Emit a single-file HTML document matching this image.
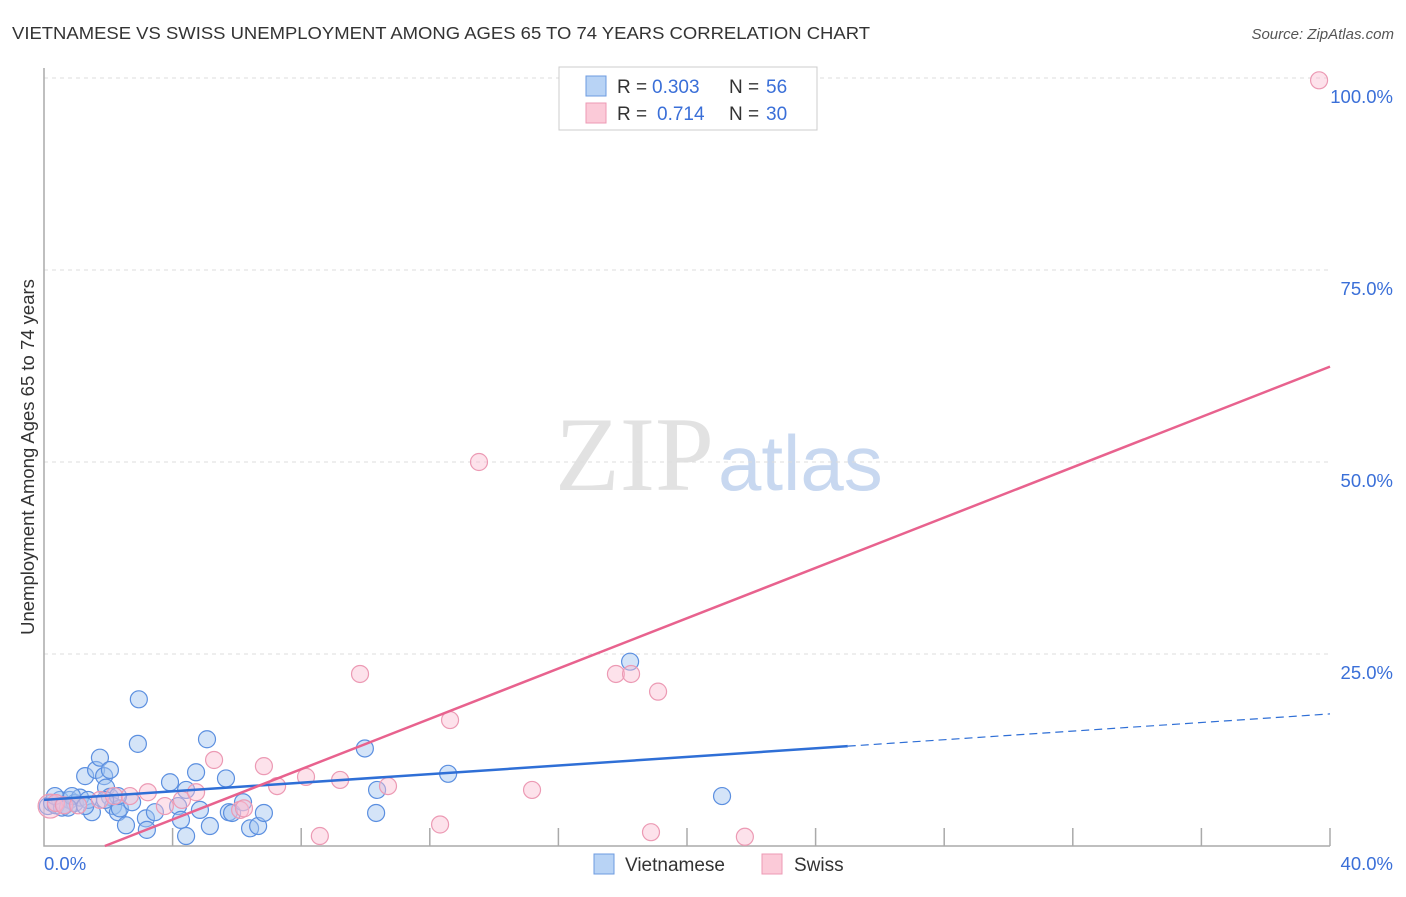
<!DOCTYPE html>
<html><head><meta charset="utf-8"><style>
body{margin:0;background:#fff;font-family:"Liberation Sans",sans-serif;}
svg text{font-family:"Liberation Sans",sans-serif;}
</style></head><body>
<svg id="chart" width="1406" height="892" xmlns="http://www.w3.org/2000/svg">
<text x="12" y="39" font-size="17.5" fill="#333" textLength="858" lengthAdjust="spacingAndGlyphs">VIETNAMESE VS SWISS UNEMPLOYMENT AMONG AGES 65 TO 74 YEARS CORRELATION CHART</text>
<text x="1394" y="39" font-size="15" fill="#555" text-anchor="end" font-style="italic">Source: ZipAtlas.com</text>
<text x="555" y="490" font-size="106" fill="#e2e2e2" style="font-family:'Liberation Serif',serif">ZIP</text>
<text x="718" y="490" font-size="78" fill="#c8d8f0">atlas</text>
<text transform="translate(34,457) rotate(-90)" font-size="18.5" fill="#333" text-anchor="middle">Unemployment Among Ages 65 to 74 years</text>
<g id="grid"></g><g id="marks"></g>
<g>
<rect x="559" y="67" width="258" height="63" fill="#fff" stroke="#ccc"/>
<rect x="586" y="76" width="20" height="20" fill="#b8d3f5" stroke="#6d9be0"/>
<rect x="586" y="103" width="20" height="20" fill="#fbcad8" stroke="#ec9ab4"/>
<text x="617" y="93" font-size="19" fill="#333">R =</text>
<text x="652" y="93" font-size="19" fill="#3a6fd8">0.303</text>
<text x="729" y="93" font-size="19" fill="#333">N =</text>
<text x="766" y="93" font-size="19" fill="#3a6fd8">56</text>
<text x="617" y="120" font-size="19" fill="#333">R =</text>
<text x="657" y="120" font-size="19" fill="#3a6fd8">0.714</text>
<text x="729" y="120" font-size="19" fill="#333">N =</text>
<text x="766" y="120" font-size="19" fill="#3a6fd8">30</text>
</g>
<g>
<rect x="594" y="854" width="20" height="20" fill="#b8d3f5" stroke="#6d9be0"/>
<text x="625" y="871" font-size="19" fill="#333">Vietnamese</text>
<rect x="762" y="854" width="20" height="20" fill="#fbcad8" stroke="#ec9ab4"/>
<text x="794" y="871" font-size="19" fill="#333">Swiss</text>
</g>
</svg>
<script>
const xTicks=[0,4,8,12,16,20,24,28,32,36,40];
const yTicks=[25,50,75,100];
const yTickLabels=["25.0%","50.0%","75.0%","100.0%"];
const blueX=[0.12,0.25,0.37,0.5,0.65,0.8,0.96,1.12,1.28,1.49,1.62,1.74,1.87,1.93,2.05,2.05,2.15,2.3,2.36,2.55,2.74,2.92,2.95,3.17,3.2,3.45,3.92,4.17,4.26,4.42,4.42,4.73,4.85,5.07,5.16,5.66,5.75,5.85,6.19,6.41,6.66,6.84,9.98,10.36,10.33,12.57,18.23,21.09,1.37,0.56,0.87,2.3,1.9,0.34,0.75,1.28];
const blueY=[5.2,5.6,5.3,6.0,5.3,6.0,5.6,6.3,9.1,4.4,9.9,11.5,9.1,7.6,6.4,9.9,5.2,4.4,4.9,2.7,5.7,13.3,19.1,3.6,2.1,4.4,8.3,5.2,3.4,1.3,7.3,9.6,4.7,13.9,2.6,8.8,4.4,4.3,5.7,2.3,2.6,4.3,12.7,7.3,4.3,9.4,24.0,6.5,6.0,5.0,6.5,6.5,6.0,6.5,5.0,5.2];
const pinkX=[0.19,0.37,0.62,1.06,1.74,2.18,2.67,3.23,3.76,4.29,4.73,5.29,6.1,6.22,6.84,7.25,8.15,8.58,9.21,9.83,10.7,12.32,12.63,13.53,15.18,17.79,18.26,18.88,19.1,21.8,39.66];
const pinkY=[5.2,5.6,5.3,5.3,6.0,6.5,6.5,7.0,5.2,6.0,7.0,11.2,4.7,4.9,10.4,7.8,9.0,1.3,8.6,22.4,7.8,2.8,16.4,50.0,7.3,22.4,22.4,1.8,20.1,1.2,99.7];
const blueFit=[6.0,0.28];
const pinkFit=[-3.1,1.638];
const NS='http://www.w3.org/2000/svg';
const X=v=>44+v/40*1286, Y=v=>846-v*7.68;
const grid=document.getElementById('grid'), marks=document.getElementById('marks');
function mk(tag,attrs,parent){const e=document.createElementNS(NS,tag);for(const k in attrs)e.setAttribute(k,attrs[k]);parent.appendChild(e);return e;}
yTicks.forEach((t,i)=>{
 const l=mk('line',{x1:44,x2:1330,y1:Y(t),y2:Y(t),stroke:'#ddd','stroke-dasharray':'4,4'},grid);
 
 
 const tx=mk('text',{x:1393,y:Y(t)+25,'font-size':18.5,fill:'#3a6fd8','text-anchor':'end'},grid);
 tx.textContent=yTickLabels[i];
 
 
});
const ax=mk('path',{d:'M44 68V846H1330',fill:'none',stroke:'#aaa','stroke-width':1.5},grid);


xTicks.slice(1).forEach(t=>{
 const l=mk('line',{x1:X(t),x2:X(t),y1:828,y2:846,stroke:'#aaa','stroke-width':1.5},grid);
 
 
});
[["0.0%",44,'start'],["40.0%",1393,'end']].forEach(a=>{
 const tx=mk('text',{x:a[1],y:870,'font-size':18.5,fill:'#3a6fd8','text-anchor':a[2]},grid);
 tx.textContent=a[0];
 
 
});
blueX.forEach((v,i)=>{
 const c=mk('circle',{cx:X(v),cy:Y(blueY[i]),r:8.5,fill:'rgba(160,195,240,0.45)',stroke:'#5b8fe0','stroke-width':1.2},marks);
 
 
});
pinkX.forEach((v,i)=>{
 const c=mk('circle',{cx:X(v),cy:Y(pinkY[i]),r:i===0?12:8.5,fill:'rgba(250,190,210,0.45)',stroke:'#ec9ab4','stroke-width':1.2},marks);
 
 
});
const bf=x=>blueFit[0]+blueFit[1]*x, pf=x=>pinkFit[0]+pinkFit[1]*x;
let l=mk('line',{x1:X(0),y1:Y(bf(0)),x2:X(25),y2:Y(bf(25)),stroke:'#2f6fd6','stroke-width':2.5},marks);


l=mk('line',{x1:X(25),y1:Y(bf(25)),x2:X(40),y2:Y(bf(40)),stroke:'#2f6fd6','stroke-width':1.2,'stroke-dasharray':'8,5'},marks);


const x0=-pinkFit[0]/pinkFit[1];
l=mk('line',{x1:X(x0),y1:Y(0),x2:X(40),y2:Y(pf(40)),stroke:'#e8628e','stroke-width':2.5},marks);


</script>
</body></html>
